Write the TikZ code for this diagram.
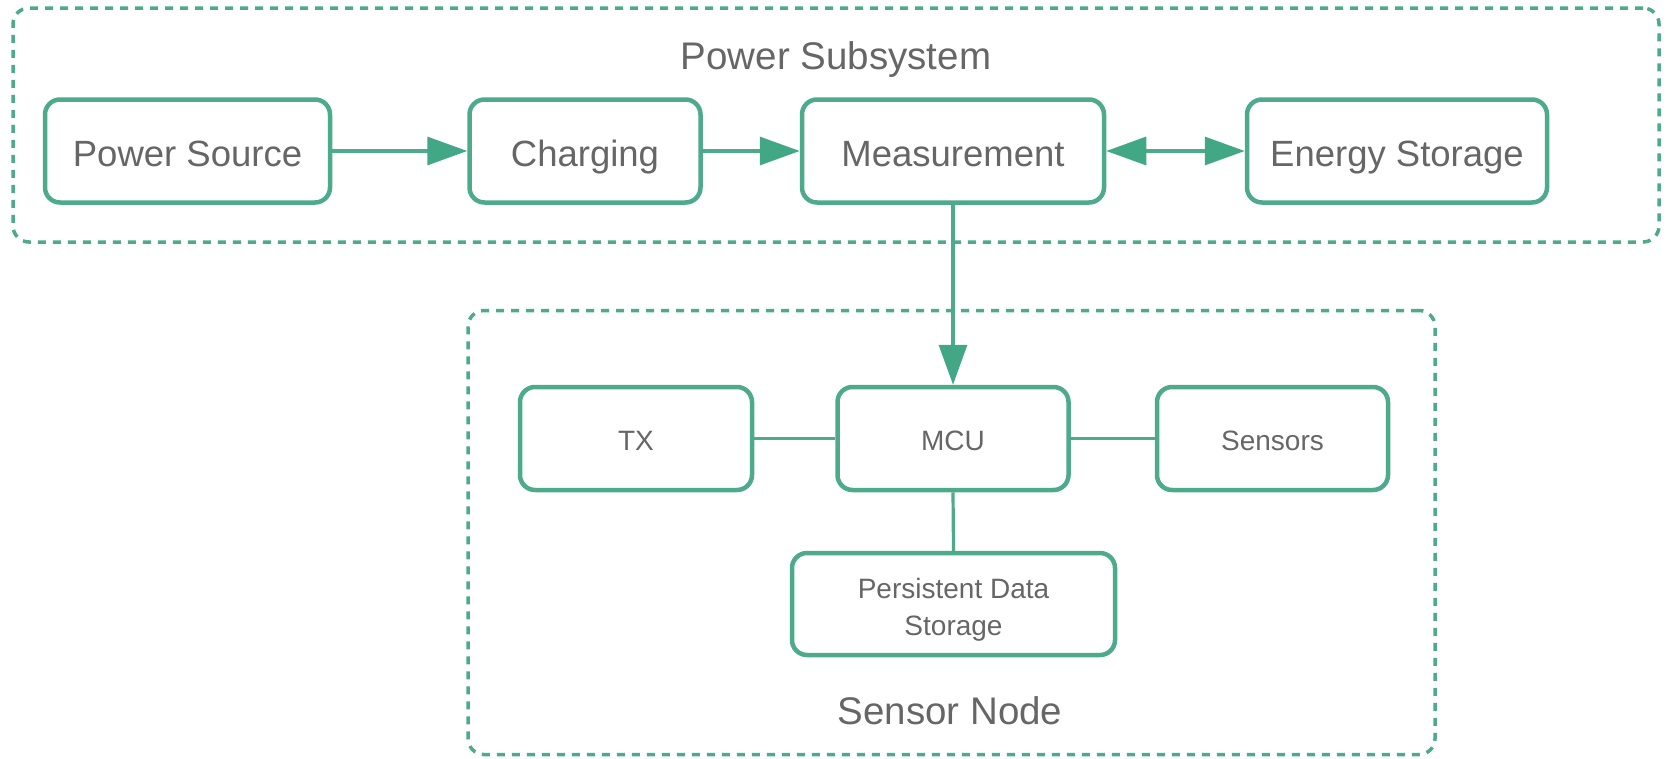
\documentclass[tikz,border=0pt]{standalone}
\usepackage{fontspec}
\setmainfont{Liberation Sans}
\usetikzlibrary{arrows.meta}
\definecolor{grn}{RGB}{77,170,138}
\definecolor{grnfill}{RGB}{66,167,133}
\definecolor{txt}{RGB}{102,102,102}
\tikzset{
  boxbase/.style={draw=grn, line width=4.5pt, rounded corners=15pt, fill=white,
    text=txt, minimum height=103pt, inner sep=0pt},
  bigbox/.style={boxbase, font=\fontsize{36.5}{44}\selectfont, text height=30pt, text depth=0pt},
  smallbox/.style={boxbase, font=\fontsize{28}{37}\selectfont, text height=24pt, text depth=0pt},
  twolinebox/.style={boxbase, font=\fontsize{28}{37}\selectfont, align=center},
  groupbox/.style={draw=grn, line width=3.5pt, dash pattern=on 8pt off 7pt, rounded corners=16pt},
  grouplabel/.style={text=txt, font=\fontsize{38.5}{46}\selectfont, inner sep=0pt, text height=27.6pt, text depth=0pt},
  link/.style={draw=grn, line width=3.2pt},
  arr/.style={link, -{Triangle[length=40pt, width=28pt, color=grnfill]}},
  darr/.style={link, {Triangle[length=40pt, width=28pt, color=grnfill]}-{Triangle[length=40pt, width=28pt, color=grnfill]}}
}
\begin{document}
\begin{tikzpicture}[x=1pt, y=-1pt]
\useasboundingbox (0,0) rectangle (1667,758);
% group boxes
\node[groupbox, minimum width=1646pt, minimum height=234pt] (psys) at (836,125) {};
\node[groupbox, minimum width=967pt, minimum height=444pt] (snode) at (951.5,532.5) {};
\node[grouplabel] (pstitle) at (836,55.5) {Power Subsystem};
\node[grouplabel] (sntitle) at (950,711) {Sensor Node};
% power row
\node[bigbox, minimum width=285pt] (ps) at (187.5,151) {Power Source};
\node[bigbox, minimum width=231pt] (ch) at (585,151) {Charging};
\node[bigbox, minimum width=302pt] (me) at (953,151) {Measurement};
\node[bigbox, minimum width=300pt] (es) at (1397,151) {Energy Storage};
% sensor row
\node[smallbox, minimum width=232pt] (tx) at (636,438.5) {TX};
\node[smallbox, minimum width=231pt] (mcu) at (953,438.5) {MCU};
\node[smallbox, minimum width=231pt] (sen) at (1272.5,438.5) {Sensors};
\node[twolinebox, minimum width=323pt, minimum height=102pt] (pds) at (953.5,604) {\rule{0pt}{31pt}Persistent Data\\Storage};
% connectors
\draw[arr] (ps.east) -- (ch.west);
\draw[arr] (ch.east) -- (me.west);
\draw[darr] (me.east) -- (es.west);
\draw[arr] (me.south) -- (mcu.north);
\draw[link] (tx.east) -- (mcu.west);
\draw[link] (mcu.east) -- (sen.west);
\draw[link] (mcu.south) -- (pds.north);
\end{tikzpicture}
\end{document}
